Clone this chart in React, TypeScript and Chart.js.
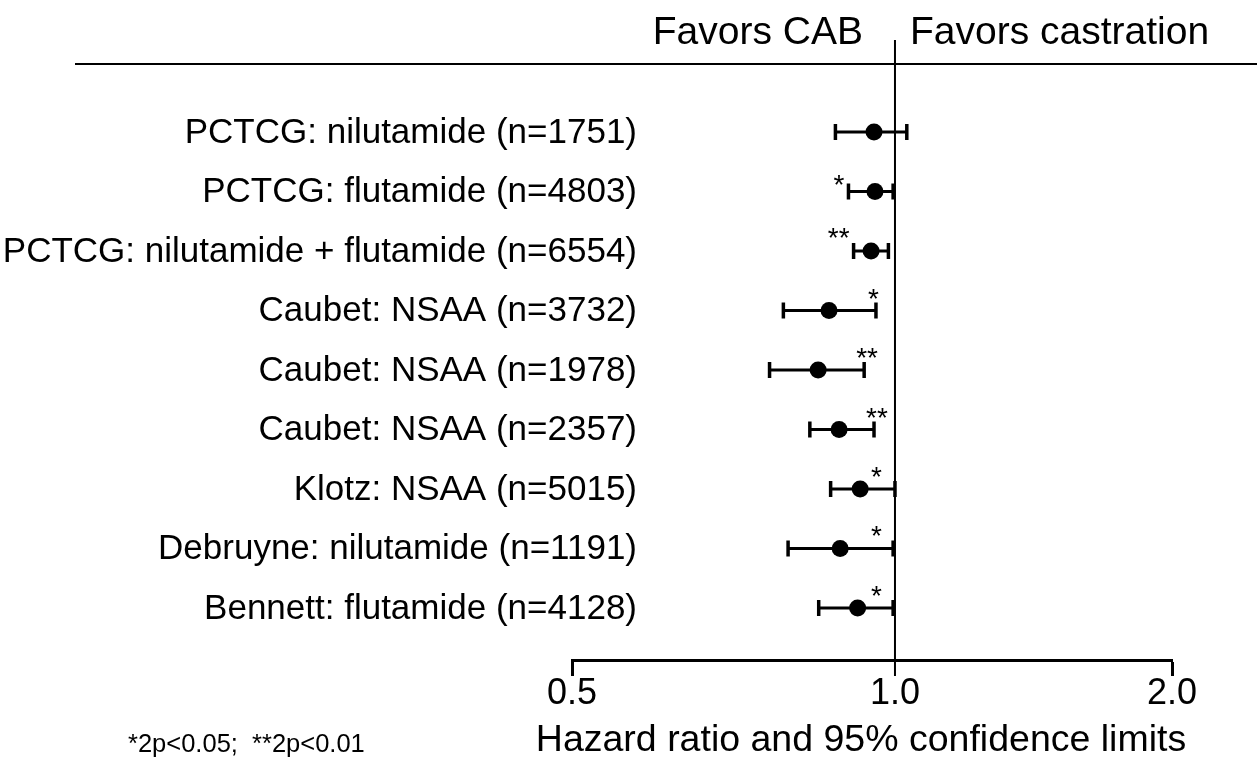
import React, { useEffect, useRef } from 'react';
import { Chart, LinearScale, registerables } from 'chart.js';

// ---------- data ----------
const LABELS = [
  'PCTCG: nilutamide (n=1751)',
  'PCTCG: flutamide (n=4803)',
  'PCTCG: nilutamide + flutamide (n=6554)',
  'Caubet: NSAA (n=3732)',
  'Caubet: NSAA (n=1978)',
  'Caubet: NSAA (n=2357)',
  'Klotz: NSAA (n=5015)',
  'Debruyne: nilutamide (n=1191)',
  'Bennett: flutamide (n=4128)',
];
const HR = [0.956, 0.958, 0.95, 0.868, 0.848, 0.887, 0.928, 0.889, 0.923];
const LOWER = [0.88, 0.905, 0.915, 0.787, 0.764, 0.833, 0.871, 0.795, 0.849];
const UPPER = [1.03, 0.996, 0.986, 0.96, 0.936, 0.956, 1.0, 0.996, 0.996];
const SIG = ['', '*', '**', '*', '**', '**', '*', '*', '*'];
const X_TICKS = [0.5, 1.0, 2.0];
const REF_VALUE = 1.0;
const HEADER_LEFT = 'Favors CAB';
const HEADER_RIGHT = 'Favors castration';
const X_TITLE = 'Hazard ratio and 95% confidence limits';
const FOOTNOTE = '*2p<0.05;  **2p<0.01';

// ---------- custom axis: log-like, with 1.0 placed at SPLIT of the width ----------
const SPLIT = 0.5383;
class ForestScale extends LinearScale {
  static id = 'forest';
  static defaults = LinearScale.defaults;
  buildTicks() {
    return X_TICKS.map((v) => ({ value: v }));
  }
  toDec(v: number) {
    const mn = this.min as number;
    const mx = this.max as number;
    if (v <= 1) return (SPLIT * Math.log(v / mn)) / Math.log(1 / mn);
    return SPLIT + ((1 - SPLIT) * Math.log(v)) / Math.log(mx);
  }
  getPixelForValue(value: any) {
    if (value === null || value === undefined || isNaN(value)) return NaN;
    return this.getPixelForDecimal(this.toDec(value));
  }
  getValueForPixel(pixel: number) {
    const d = this.getDecimalForPixel(pixel);
    const mn = this.min as number;
    const mx = this.max as number;
    if (d <= SPLIT) return mn * Math.exp((d / SPLIT) * Math.log(1 / mn));
    return Math.exp(((d - SPLIT) / (1 - SPLIT)) * Math.log(mx));
  }
}

Chart.register(...registerables, ForestScale as any);

const FONT = "'Liberation Sans', Arial, sans-serif";

const forestText = {
  id: 'forestText',
  beforeDatasetsDraw(chart: any) {
    const ctx = chart.ctx;
    const xs = chart.scales.x;
    const x1 = xs.getPixelForValue(REF_VALUE);
    ctx.save();
    ctx.strokeStyle = '#000';
    // top rule
    ctx.lineWidth = 2;
    ctx.beginPath();
    ctx.moveTo(75, 64);
    ctx.lineTo(1257, 64);
    ctx.stroke();
    // reference line at 1.0
    ctx.beginPath();
    ctx.moveTo(x1, 40);
    ctx.lineTo(x1, 676);
    ctx.stroke();
    ctx.restore();
  },
  afterDraw(chart: any) {
    const ctx = chart.ctx;
    const xs = chart.scales.x;
    const ys = chart.scales.y;
    const x1 = xs.getPixelForValue(REF_VALUE);
    ctx.save();
    ctx.fillStyle = '#000';
    // headers
    ctx.font = `39px ${FONT}`;
    ctx.textBaseline = 'middle';
    ctx.textAlign = 'right';
    ctx.fillText(HEADER_LEFT, x1 - 32, 33);
    ctx.textAlign = 'left';
    ctx.fillText(HEADER_RIGHT, x1 + 15, 33);
    // row labels
    ctx.font = `35px ${FONT}`;
    ctx.textAlign = 'right';
    LABELS.forEach((s, i) => {
      ctx.fillText(s, 637, ys.getPixelForValue(i) + 1);
    });
    // significance stars
    ctx.font = `28px ${FONT}`;
    ctx.textBaseline = 'alphabetic';
    SIG.forEach((s, i) => {
      if (!s) return;
      const y = ys.getPixelForValue(i);
      if (i < 3) {
        ctx.textAlign = 'right';
        ctx.fillText(s, xs.getPixelForValue(LOWER[i]) - 4, y + (i === 1 ? 2 : -4));
      } else {
        ctx.textAlign = 'left';
        const x = Math.min(xs.getPixelForValue(UPPER[i]) - 8, x1 - 24);
        ctx.fillText(s, x, y - 3);
      }
    });
    // axis title
    ctx.font = `37.5px ${FONT}`;
    ctx.textAlign = 'center';
    ctx.textBaseline = 'middle';
    ctx.fillText(X_TITLE, (xs.left + xs.right) / 2 - 11, 741);
    // footnote
    ctx.font = `25.5px ${FONT}`;
    ctx.textAlign = 'left';
    ctx.textBaseline = 'middle';
    ctx.fillText(FOOTNOTE, 128, 745);
    ctx.restore();
  },
};

export default function App() {
  const ref = useRef<HTMLCanvasElement>(null);
  useEffect(() => {
    if (!ref.current) return;
    const ciSets = LABELS.map((_, i) => ({
      type: 'scatter' as const,
      data: [
        { x: LOWER[i], y: i },
        { x: UPPER[i], y: i },
      ],
      showLine: true,
      borderColor: '#000',
      borderWidth: 3,
      pointStyle: 'line' as const,
      pointRotation: 90,
      pointRadius: 8,
      pointHoverRadius: 8,
      pointBorderWidth: 3.5,
      pointBorderColor: '#000',
      backgroundColor: '#000',
    }));
    const chart = new Chart(ref.current, {
      type: 'scatter',
      data: {
        datasets: [
          {
            data: HR.map((v, i) => ({ x: v, y: i })),
            pointStyle: 'circle',
            pointRadius: 8.5,
            pointHoverRadius: 8.5,
            backgroundColor: '#000',
            borderColor: '#000',
            borderWidth: 0,
          },
          ...ciSets,
        ] as any,
      },
      options: {
        animation: false,
        responsive: false,
        devicePixelRatio: 1,
        events: [],
        layout: { padding: { left: 572, right: 85, top: 64, bottom: 50 } },
        plugins: { legend: { display: false }, tooltip: { enabled: false } },
        scales: {
          x: {
            type: 'forest' as any,
            min: 0.5,
            max: 2.0,
            grid: {
              drawOnChartArea: false,
              drawTicks: true,
              tickLength: 16,
              tickWidth: 3,
              tickColor: (c: any) => (c.tick && c.tick.value === REF_VALUE ? 'rgba(0,0,0,0)' : '#000'),
            },
            border: { display: true, color: '#000', width: 3 },
            ticks: {
              color: '#000',
              padding: 0,
              maxRotation: 0,
              autoSkip: false,
              font: { family: FONT, size: 36, lineHeight: 1 },
              callback: (v: any) => Number(v).toFixed(1),
            },
            title: { display: false },
          } as any,
          y: {
            type: 'linear',
            display: false,
            reverse: true,
            min: -1.143,
            max: 8.874,
          },
        },
      },
      plugins: [forestText],
    });
    return () => chart.destroy();
  }, []);
  return (
    <div style={{ position: 'fixed', left: 0, top: 0, width: 1257, height: 762, background: '#fff' }}>
      <canvas ref={ref} width={1257} height={762} style={{ display: 'block' }} />
    </div>
  );
}
